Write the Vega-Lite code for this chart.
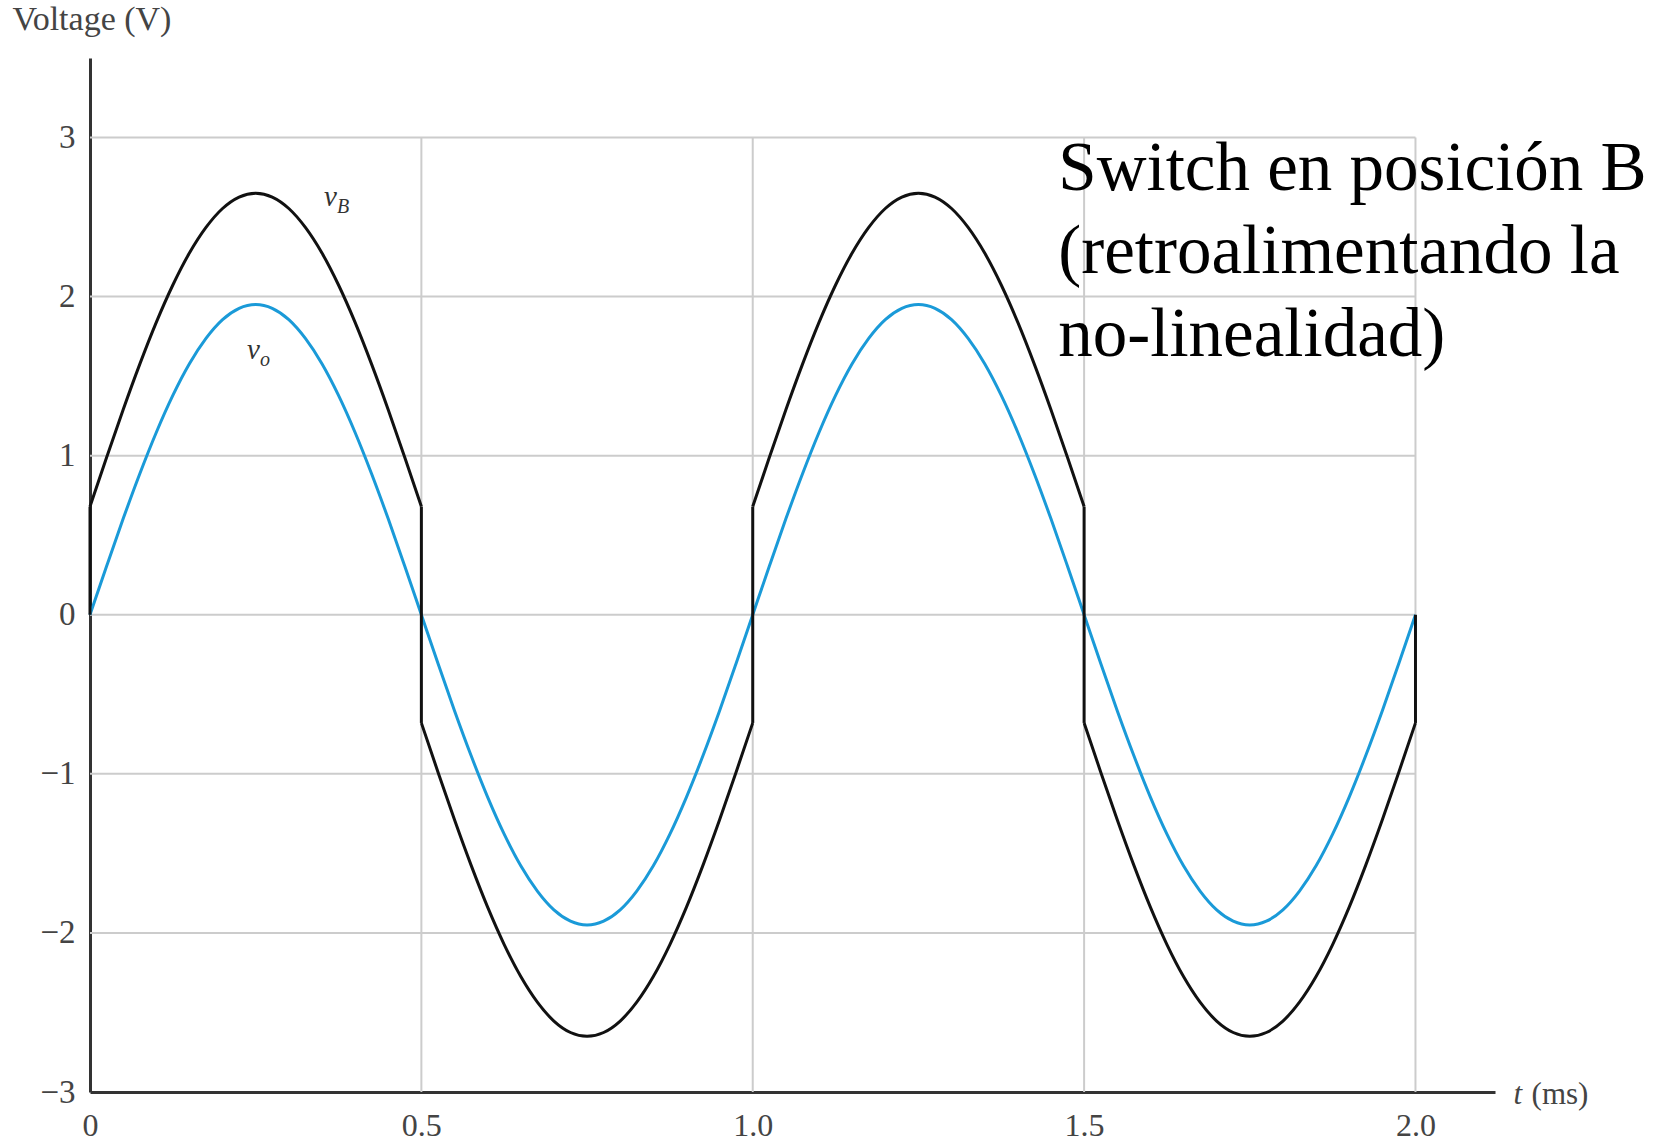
{
  "$schema": "https://vega.github.io/schema/vega-lite/v6.json",
  "autosize": {"type": "none"},
  "width": 1405,
  "height": 1034,
  "padding": {"left": 90, "top": 58, "right": 169, "bottom": 52},
  "background": "white",
  "config": {"view": {"stroke": null}},
  "datasets": {
    "vgrid": [{"t": 0.5, "v": -3, "v2": 3}, {"t": 1, "v": -3, "v2": 3}, {"t": 1.5, "v": -3, "v2": 3}, {"t": 2, "v": -3, "v2": 3}],
    "hgrid": [{"v": -2, "t": 0, "t2": 2}, {"v": -1, "t": 0, "t2": 2}, {"v": 0, "t": 0, "t2": 2}, {"v": 1, "t": 0, "t2": 2}, {"v": 2, "t": 0, "t2": 2}, {"v": 3, "t": 0, "t2": 2}],
    "vo": [
      {"t":0,"v":0},{"t":0.025,"v":0.305},{"t":0.05,"v":0.603},{"t":0.075,"v":0.885},{"t":0.1,"v":1.146},{"t":0.125,"v":1.379},{"t":0.15,"v":1.578},{"t":0.175,"v":1.737},{"t":0.2,"v":1.855},{"t":0.225,"v":1.926},{"t":0.25,"v":1.95},{"t":0.275,"v":1.926},{"t":0.3,"v":1.855},{"t":0.325,"v":1.737},{"t":0.35,"v":1.578},{"t":0.375,"v":1.379},{"t":0.4,"v":1.146},{"t":0.425,"v":0.885},{"t":0.45,"v":0.603},{"t":0.475,"v":0.305},{"t":0.5,"v":0},
      {"t":0.525,"v":-0.305},{"t":0.55,"v":-0.603},{"t":0.575,"v":-0.885},{"t":0.6,"v":-1.146},{"t":0.625,"v":-1.379},{"t":0.65,"v":-1.578},{"t":0.675,"v":-1.737},{"t":0.7,"v":-1.855},{"t":0.725,"v":-1.926},{"t":0.75,"v":-1.95},{"t":0.775,"v":-1.926},{"t":0.8,"v":-1.855},{"t":0.825,"v":-1.737},{"t":0.85,"v":-1.578},{"t":0.875,"v":-1.379},{"t":0.9,"v":-1.146},{"t":0.925,"v":-0.885},{"t":0.95,"v":-0.603},{"t":0.975,"v":-0.305},{"t":1,"v":0},
      {"t":1.025,"v":0.305},{"t":1.05,"v":0.603},{"t":1.075,"v":0.885},{"t":1.1,"v":1.146},{"t":1.125,"v":1.379},{"t":1.15,"v":1.578},{"t":1.175,"v":1.737},{"t":1.2,"v":1.855},{"t":1.225,"v":1.926},{"t":1.25,"v":1.95},{"t":1.275,"v":1.926},{"t":1.3,"v":1.855},{"t":1.325,"v":1.737},{"t":1.35,"v":1.578},{"t":1.375,"v":1.379},{"t":1.4,"v":1.146},{"t":1.425,"v":0.885},{"t":1.45,"v":0.603},{"t":1.475,"v":0.305},{"t":1.5,"v":0},
      {"t":1.525,"v":-0.305},{"t":1.55,"v":-0.603},{"t":1.575,"v":-0.885},{"t":1.6,"v":-1.146},{"t":1.625,"v":-1.379},{"t":1.65,"v":-1.578},{"t":1.675,"v":-1.737},{"t":1.7,"v":-1.855},{"t":1.725,"v":-1.926},{"t":1.75,"v":-1.95},{"t":1.775,"v":-1.926},{"t":1.8,"v":-1.855},{"t":1.825,"v":-1.737},{"t":1.85,"v":-1.578},{"t":1.875,"v":-1.379},{"t":1.9,"v":-1.146},{"t":1.925,"v":-0.885},{"t":1.95,"v":-0.603},{"t":1.975,"v":-0.305},{"t":2,"v":0}
    ],
    "vB": [
      {"seg":1,"t":0,"v":0.68},{"seg":1,"t":0.025,"v":0.988},{"seg":1,"t":0.05,"v":1.289},{"seg":1,"t":0.075,"v":1.574},{"seg":1,"t":0.1,"v":1.838},{"seg":1,"t":0.125,"v":2.073},{"seg":1,"t":0.15,"v":2.274},{"seg":1,"t":0.175,"v":2.435},{"seg":1,"t":0.2,"v":2.554},{"seg":1,"t":0.225,"v":2.626},{"seg":1,"t":0.25,"v":2.65},{"seg":1,"t":0.275,"v":2.626},{"seg":1,"t":0.3,"v":2.554},{"seg":1,"t":0.325,"v":2.435},{"seg":1,"t":0.35,"v":2.274},{"seg":1,"t":0.375,"v":2.073},{"seg":1,"t":0.4,"v":1.838},{"seg":1,"t":0.425,"v":1.574},{"seg":1,"t":0.45,"v":1.289},{"seg":1,"t":0.475,"v":0.988},{"seg":1,"t":0.5,"v":0.68},
      {"seg":2,"t":0.5,"v":-0.68},{"seg":2,"t":0.525,"v":-0.988},{"seg":2,"t":0.55,"v":-1.289},{"seg":2,"t":0.575,"v":-1.574},{"seg":2,"t":0.6,"v":-1.838},{"seg":2,"t":0.625,"v":-2.073},{"seg":2,"t":0.65,"v":-2.274},{"seg":2,"t":0.675,"v":-2.435},{"seg":2,"t":0.7,"v":-2.554},{"seg":2,"t":0.725,"v":-2.626},{"seg":2,"t":0.75,"v":-2.65},{"seg":2,"t":0.775,"v":-2.626},{"seg":2,"t":0.8,"v":-2.554},{"seg":2,"t":0.825,"v":-2.435},{"seg":2,"t":0.85,"v":-2.274},{"seg":2,"t":0.875,"v":-2.073},{"seg":2,"t":0.9,"v":-1.838},{"seg":2,"t":0.925,"v":-1.574},{"seg":2,"t":0.95,"v":-1.289},{"seg":2,"t":0.975,"v":-0.988},{"seg":2,"t":1,"v":-0.68},
      {"seg":3,"t":1,"v":0.68},{"seg":3,"t":1.025,"v":0.988},{"seg":3,"t":1.05,"v":1.289},{"seg":3,"t":1.075,"v":1.574},{"seg":3,"t":1.1,"v":1.838},{"seg":3,"t":1.125,"v":2.073},{"seg":3,"t":1.15,"v":2.274},{"seg":3,"t":1.175,"v":2.435},{"seg":3,"t":1.2,"v":2.554},{"seg":3,"t":1.225,"v":2.626},{"seg":3,"t":1.25,"v":2.65},{"seg":3,"t":1.275,"v":2.626},{"seg":3,"t":1.3,"v":2.554},{"seg":3,"t":1.325,"v":2.435},{"seg":3,"t":1.35,"v":2.274},{"seg":3,"t":1.375,"v":2.073},{"seg":3,"t":1.4,"v":1.838},{"seg":3,"t":1.425,"v":1.574},{"seg":3,"t":1.45,"v":1.289},{"seg":3,"t":1.475,"v":0.988},{"seg":3,"t":1.5,"v":0.68},
      {"seg":4,"t":1.5,"v":-0.68},{"seg":4,"t":1.525,"v":-0.988},{"seg":4,"t":1.55,"v":-1.289},{"seg":4,"t":1.575,"v":-1.574},{"seg":4,"t":1.6,"v":-1.838},{"seg":4,"t":1.625,"v":-2.073},{"seg":4,"t":1.65,"v":-2.274},{"seg":4,"t":1.675,"v":-2.435},{"seg":4,"t":1.7,"v":-2.554},{"seg":4,"t":1.725,"v":-2.626},{"seg":4,"t":1.75,"v":-2.65},{"seg":4,"t":1.775,"v":-2.626},{"seg":4,"t":1.8,"v":-2.554},{"seg":4,"t":1.825,"v":-2.435},{"seg":4,"t":1.85,"v":-2.274},{"seg":4,"t":1.875,"v":-2.073},{"seg":4,"t":1.9,"v":-1.838},{"seg":4,"t":1.925,"v":-1.574},{"seg":4,"t":1.95,"v":-1.289},{"seg":4,"t":1.975,"v":-0.988},{"seg":4,"t":2,"v":-0.68}
    ],
    "vBjumps": [
      {"t": 0, "v": 0, "v2": 0.68},
      {"t": 0.5, "v": 0.68, "v2": -0.68},
      {"t": 1, "v": -0.68, "v2": 0.68},
      {"t": 1.5, "v": 0.68, "v2": -0.68},
      {"t": 2, "v": -0.68, "v2": 0}
    ],
    "curveLabels": [
      {"t": 0.353, "v": 2.57, "main": "v", "sub": "B"},
      {"t": 0.237, "v": 1.61, "main": "v", "sub": "o"}
    ],
    "note": [
      {"t": 1.461, "v": 2.67, "txt": "Switch en posición B\n(retroalimentando la\nno-linealidad)"}
    ],
    "xtitle": [
      {"t": 2.148, "v": -3.02, "a": "t", "b": "(ms)"}
    ]
  },
  "encoding": {
    "x": {"field": "t", "type": "quantitative",
      "scale": {"domain": [0, 2.12], "nice": false, "zero": false},
      "axis": {"values": [0, 0.5, 1, 1.5, 2], "labelExpr": "datum.value == 0 ? '0' : format(datum.value, '.1f')",
        "title": null, "grid": false, "ticks": false, "tickSize": 0, "domainColor": "#333333", "domainWidth": 3,
        "labelFont": "Liberation Serif", "labelFontSize": 32, "labelColor": "#444444", "labelPadding": 18, "labelFlush": false, "labelOverlap": false}},
    "y": {"field": "v", "type": "quantitative",
      "scale": {"domain": [-3, 3.5], "nice": false, "zero": false},
      "axis": {"values": [-3, -2, -1, 0, 1, 2, 3], "title": "Voltage (V)", "titleAngle": 0, "titleX": -78, "titleY": -29,
        "titleAlign": "left", "titleBaseline": "alphabetic", "titleFont": "Liberation Serif", "titleFontSize": 34, "titleFontWeight": "normal", "titleColor": "#444444",
        "grid": false, "ticks": false, "tickSize": 0, "domainColor": "#333333", "domainWidth": 3,
        "labelFont": "Liberation Serif", "labelFontSize": 33, "labelColor": "#444444", "labelPadding": 15, "labelFlush": false, "labelOverlap": false}}
  },
  "layer": [
    {
      "data": {"name": "vgrid"},
      "mark": {"type": "rule", "color": "#cccccc", "strokeWidth": 2},
      "encoding": {"y2": {"field": "v2"}}
    },
    {
      "data": {"name": "hgrid"},
      "mark": {"type": "rule", "color": "#cccccc", "strokeWidth": 2},
      "encoding": {"x2": {"field": "t2"}}
    },
    {
      "data": {"name": "vo"},
      "mark": {"type": "line", "color": "#1a9ad8", "strokeWidth": 3, "interpolate": "monotone"},
      "encoding": {}
    },
    {
      "data": {"name": "vB"},
      "mark": {"type": "line", "color": "#111111", "strokeWidth": 3, "interpolate": "monotone"},
      "encoding": {"detail": {"field": "seg", "type": "nominal"}}
    },
    {
      "data": {"name": "vBjumps"},
      "mark": {"type": "rule", "color": "#111111", "strokeWidth": 3},
      "encoding": {"y2": {"field": "v2"}}
    },
    {
      "data": {"name": "curveLabels"},
      "mark": {"type": "text", "font": "Liberation Serif", "fontStyle": "italic", "fontSize": 29, "align": "left", "baseline": "alphabetic", "color": "#333333"},
      "encoding": {"text": {"field": "main"}}
    },
    {
      "data": {"name": "curveLabels"},
      "mark": {"type": "text", "font": "Liberation Serif", "fontStyle": "italic", "fontSize": 20, "align": "left", "baseline": "alphabetic", "color": "#333333", "dx": 13, "dy": 7},
      "encoding": {"text": {"field": "sub"}}
    },
    {
      "data": {"name": "note"},
      "mark": {"type": "text", "font": "Liberation Serif", "fontSize": 69, "align": "left", "baseline": "alphabetic", "color": "#000000", "lineBreak": "\n", "lineHeight": 83},
      "encoding": {"text": {"field": "txt"}}
    },
    {
      "data": {"name": "xtitle"},
      "mark": {"type": "text", "font": "Liberation Serif", "fontStyle": "italic", "fontSize": 31, "align": "left", "baseline": "middle", "color": "#444444"},
      "encoding": {"text": {"field": "a"}}
    },
    {
      "data": {"name": "xtitle"},
      "mark": {"type": "text", "font": "Liberation Serif", "fontSize": 31, "align": "left", "baseline": "middle", "color": "#444444", "dx": 18},
      "encoding": {"text": {"field": "b"}}
    }
  ]
}
